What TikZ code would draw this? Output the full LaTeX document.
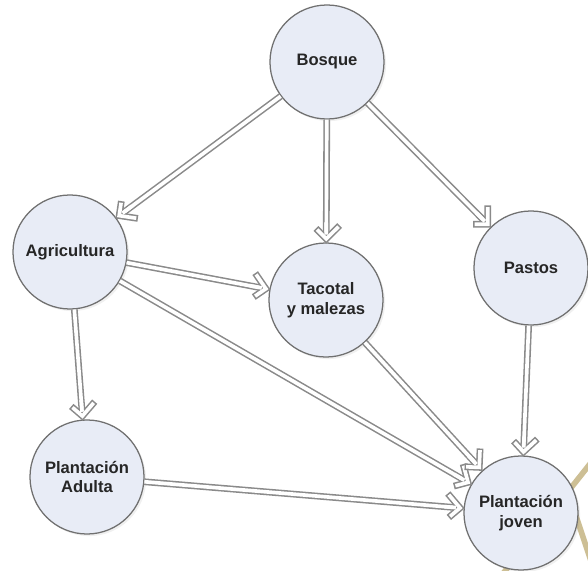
\documentclass[tikz,border=0pt]{standalone}
\usepackage{fontspec}
\setmainfont{Liberation Sans}
\usetikzlibrary{decorations.markings,shadows}
\definecolor{nodofill}{HTML}{E8ECF6}
\definecolor{nodoline}{HTML}{707070}
\definecolor{flechagris}{HTML}{8A8A8A}
\definecolor{fondotan}{HTML}{CDBF95}
\tikzstyle{vertexb}=[circle,draw=nodoline,line width=0.9pt,fill=nodofill,minimum size=2.85cm,inner sep=0pt,align=center,font=\fontsize{11.8}{14}\selectfont\bfseries,text=black!85,drop shadow={opacity=0.12,shadow xshift=1.5pt,shadow yshift=-1.5pt}]
\tikzstyle{flecha}=[preaction={draw=flechagris,line width=4.8pt,shorten >=3pt},draw=white,line width=2.6pt,shorten >=3pt,
  decoration={markings,mark=at position 1 with {
    \draw[flechagris,line width=4.8pt,line join=miter] (-12pt,9.5pt) -- (-2.5pt,0pt) -- (-12pt,-9.5pt);
    \draw[white,line width=2.6pt,line join=miter] (-11.2pt,8.7pt) -- (-2.5pt,0pt) -- (-11.2pt,-8.7pt);
    \draw[white,line width=2.6pt] (-14pt,0pt) -- (-2.5pt,0pt);}},
  postaction={decorate}]

\begin{document}
\begin{tikzpicture}[x=0.025cm,y=-0.025cm]
    \useasboundingbox (0,0) rectangle (588,571);
    \begin{scope}
    \clip (0,0) rectangle (588,571);
    \draw[fondotan,line width=4pt] (605,445) -- (490,590);
    \draw[fondotan,line width=4pt] (565,483) -- (598,582);
    \end{scope}
    \node[vertexb] (bosque) at (327,62)  {Bosque};
    \node[vertexb] (agri) at (70,252)  {Agricultura};
    \node[vertexb] (tacotal) at (326,300) {Tacotal\\y malezas};
    \node[vertexb] (pastos) at (531,268) {Pastos};
    \node[vertexb] (adulta) at (87,477) {Plantación\\Adulta};
    \node[vertexb] (joven) at (521,513) {Plantación\\joven};
    
    \foreach \from/\to in {bosque/agri,bosque/tacotal,bosque/pastos,agri/tacotal,agri/adulta,agri/joven,tacotal/joven,pastos/joven,adulta/joven}
    \draw[flecha] (\from) -- (\to);
\end{tikzpicture}
\end{document}
